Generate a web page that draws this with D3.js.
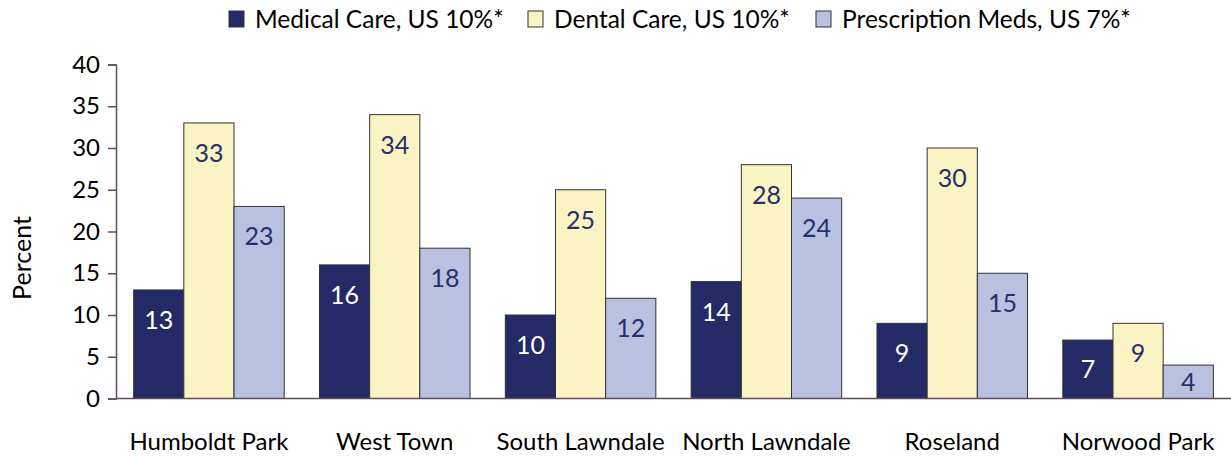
<!DOCTYPE html>
<html>
<head>
<meta charset="utf-8">
<script src="https://cdn.jsdelivr.net/npm/d3@7"></script>
<style>
  body { margin: 0; background: #fff; }
  text { font-family: Lato, "Open Sans", sans-serif; }
</style>
</head>
<body>
<svg id="chart" width="1231" height="457"></svg>
<script>
const neighborhoods = ["Humboldt Park", "West Town", "South Lawndale", "North Lawndale", "Roseland", "Norwood Park"];
const seriesNames = ["Medical Care, US 10%*", "Dental Care, US 10%*", "Prescription Meds, US 7%*"];
const medical = [13, 16, 10, 14, 9, 7];
const dental = [33, 34, 25, 28, 30, 9];
const prescription = [23, 18, 12, 24, 15, 4];
const yTicks = [0, 5, 10, 15, 20, 25, 30, 35, 40];

const fills = ["#232a66", "#faf4c4", "#b9c0e0"];
const labelColors = ["#ffffff", "#27306a", "#27306a"];
const AXIS = "#5d4e5d";

const svg = d3.select("#chart");

const x0 = d3.scaleBand()
  .domain(neighborhoods)
  .range([116, 1231])
  .paddingInner(0.19)
  .paddingOuter(0.095);
const x1 = d3.scaleBand()
  .domain(d3.range(3))
  .range([0, x0.bandwidth()]);
const y = d3.scaleLinear().domain([0, 40]).range([398.5, 64.5]);

const values = [medical, dental, prescription];
const rows = neighborhoods.map((n, i) => ({
  name: n,
  vals: values.map((s, k) => ({ k, v: s[i] }))
}));

// bars
const groups = svg.selectAll(".grp")
  .data(rows)
  .enter()
  .append("g")
  .attr("transform", d => `translate(${x0(d.name)},0)`);

groups.selectAll("rect")
  .data(d => d.vals)
  .enter()
  .append("rect")
  .attr("x", d => x1(d.k))
  .attr("y", d => y(d.v))
  .attr("width", x1.bandwidth())
  .attr("height", d => y(0) - y(d.v))
  .attr("fill", d => fills[d.k])
  .attr("stroke", "#333")
  .attr("stroke-width", 1);

groups.selectAll(".lbl")
  .data(d => d.vals)
  .enter()
  .append("text")
  .attr("x", d => x1(d.k) + x1.bandwidth() / 2)
  .attr("y", d => y(d.v) + Math.min(30, (y(0) - y(d.v)) / 2))
  .attr("dy", "0.36em")
  .attr("text-anchor", "middle")
  .attr("font-size", 25)
  .attr("fill", d => labelColors[d.k])
  .text(d => d.v);

// y axis
const yAxis = svg.append("g")
  .attr("transform", "translate(116,0)")
  .call(d3.axisLeft(y).tickValues(yTicks).tickSize(8).tickPadding(8));
yAxis.select(".domain").attr("stroke", AXIS).attr("stroke-width", 1.5);
yAxis.selectAll(".tick line").attr("stroke", AXIS).attr("stroke-width", 1.5);
yAxis.selectAll(".tick text")
  .attr("font-size", 24)
  .attr("fill", "#000")
  .attr("font-family", "Lato, sans-serif");

// x baseline
svg.append("line")
  .attr("x1", 116).attr("x2", 1231)
  .attr("y1", y(0)).attr("y2", y(0))
  .attr("stroke", AXIS).attr("stroke-width", 1.5);

// category labels
svg.selectAll(".cat")
  .data(neighborhoods)
  .enter()
  .append("text")
  .attr("x", d => x0(d) + x0.bandwidth() / 2)
  .attr("y", 442)
  .attr("dy", "0.35em")
  .attr("text-anchor", "middle")
  .attr("font-size", 24)
  .attr("fill", "#000")
  .text(d => d);

// y title
svg.append("text")
  .attr("transform", "translate(22,258) rotate(-90)")
  .attr("text-anchor", "middle")
  .attr("dy", "0.35em")
  .attr("font-size", 25)
  .text("Percent");

// legend
const legendX = [229, 528, 816];
const legend = svg.selectAll(".leg")
  .data(seriesNames)
  .enter()
  .append("g")
  .attr("transform", (d, i) => `translate(${legendX[i]},11)`);
legend.append("rect")
  .attr("width", 15).attr("height", 16)
  .attr("fill", (d, i) => fills[i])
  .attr("stroke", "#333");
legend.append("text")
  .attr("x", 26)
  .attr("y", 8)
  .attr("dy", "0.36em")
  .attr("font-size", 24.5)
  .text(d => d);
</script>
</body>
</html>
